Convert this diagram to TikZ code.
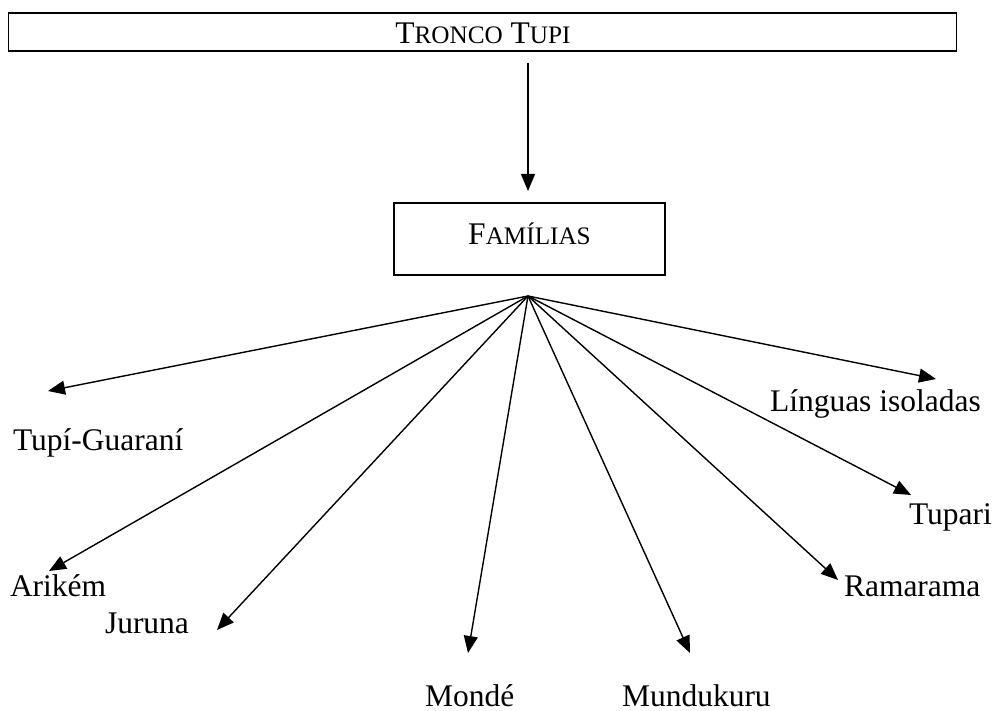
\documentclass[tikz,border=0pt]{standalone}
\usepackage{fontspec}
\setmainfont{Liberation Serif}
\usetikzlibrary{arrows.meta}
\newcommand{\bigsz}{\fontsize{31.5}{36}\selectfont}
\newcommand{\smsz}{\fontsize{25.2}{30}\selectfont}
\tikzset{
  boxline/.style={draw, line width=1.4pt, inner sep=0pt, outer sep=0pt},
  lbl/.style={anchor=base west, inner sep=0pt, outer sep=0pt, font=\bigsz},
  arr/.style={line width=1.4pt, -{Triangle[length=17pt,width=14pt]}}
}
\begin{document}
\begin{tikzpicture}[x=1pt,y=-1pt]
\useasboundingbox (0,0) rectangle (994,711);
% boxes
\node[boxline, line width=1.7pt, minimum width=948pt, minimum height=38pt] (tt) at (482.5,32) {};
\node[inner sep=0pt, font=\bigsz] (tttxt) at (483,33) {T{\smsz RONCO} T{\smsz UPI}};
\node[boxline, minimum width=271pt, minimum height=72pt] (fam) at (529.5,239) {};
\node[inner sep=0pt, font=\bigsz] (famtxt) at (529.5,234) {F{\smsz AMÍLIAS}};
\draw[arr, shorten <=12pt, shorten >=12pt] (tt.south -| 528,0) -- (fam.north -| 528,0);
% hub and tips
\coordinate (hub) at (528,296);
\coordinate (ttg) at (48,391);
\coordinate (tar) at (49,571);
\coordinate (tju) at (217,630);
\coordinate (tmo) at (468,653);
\coordinate (tmu) at (690,653);
\coordinate (tra) at (838,580);
\coordinate (ttu) at (911,495);
\coordinate (tli) at (936,379);
% labels
\node[lbl] (tg) at (13,450) {Tupí-Guaraní};
\node[lbl] (ar) at (10,596) {Arikém};
\node[lbl] (ju) at (105,633) {Juruna};
\node[lbl] (mo) at (425,706) {Mondé};
\node[lbl] (mu) at (622,706) {Mundukuru};
\node[lbl] (ra) at (844,596) {Ramarama};
\node[lbl] (tu) at (909,524) {Tupari};
\node[lbl] (li) at (770,412) {Línguas isoladas};
% arrows
\foreach \t in {ttg,tar,tju,tmo,tmu,tra,ttu,tli}
  \draw[arr] (hub) -- (\t);
\end{tikzpicture}
\end{document}
